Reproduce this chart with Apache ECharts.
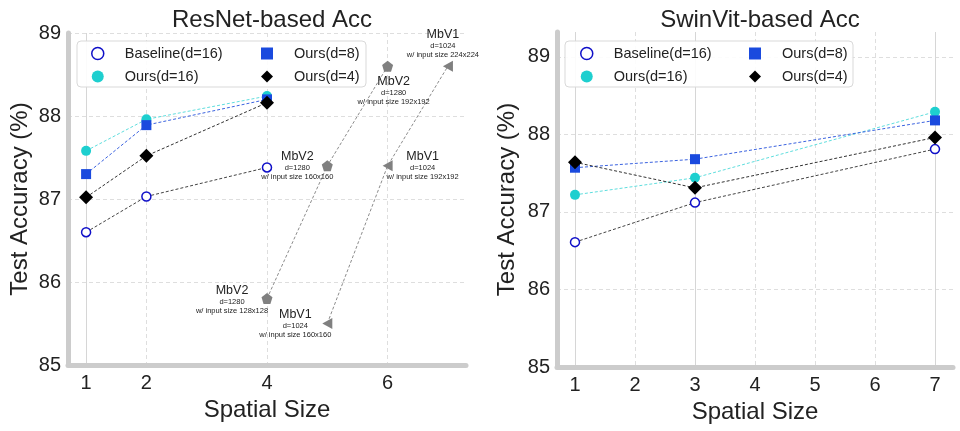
<!DOCTYPE html>
<html>
<head>
<meta charset="utf-8">
<script src="https://cdn.jsdelivr.net/npm/echarts@6/dist/echarts.min.js"></script>
<style>
html,body{margin:0;padding:0;background:#fff;}
#chart{width:960px;height:431px;}
</style>
</head>
<body>
<div id="chart"></div>
<script>
// ---------- data ----------
var resX = [1, 2, 4];
var resBaseline = [86.60, 87.03, 87.38];
var resOurs16 = [87.58, 87.96, 88.24];
var resOurs8 = [87.30, 87.89, 88.20];
var resOurs4 = [87.02, 87.52, 88.16];

var swinX = [1, 3, 7];
var swinBaseline = [86.61, 87.12, 87.81];
var swinOurs8 = [87.57, 87.68, 88.18];
var swinOurs16 = [87.22, 87.44, 88.29];
var swinOurs4 = [87.64, 87.31, 87.96];

var mbv2X = [4, 5, 6];
var mbv2Y = [85.8, 87.4, 88.6];
var mbv2Dim = ['d=1280', 'd=1280', 'd=1280'];
var mbv2Input = ['128x128', '160x160', '192x192'];

var mbv1X = [5, 6, 7];
var mbv1Y = [85.5, 87.4, 88.6];
var mbv1Dim = ['d=1024', 'd=1024', 'd=1024'];
var mbv1Input = ['160x160', '192x192', '224x224'];

var resTicks = [1, 2, 4, 6];
var swinTicks = [1, 2, 3, 4, 5, 6, 7];
var yTicks = [85, 86, 87, 88, 89];

var titles = ['ResNet-based Acc', 'SwinVit-based Acc'];
var names = ['Baseline(d=16)', 'Ours(d=16)', 'Ours(d=8)', 'Ours(d=4)'];

// ---------- styling (not data) ----------
var FONT = 'Liberation Sans, Arial, sans-serif';
var C_BASE = '#1010c8';
var C_O16 = '#1ecfcf';
var C_O8 = '#1a4ade';
var C_O4 = '#000000';
var C_GRAY = '#808080';
var mbv2Offsets = [[-35, 1], [-30, 0], [6, 24]];
var mbv1Offsets = [[-32, 0], [35, 0], [-5, -23]];

var ICON_CIRCLE = 'path://M10,5 A5,5 0 1 1 0,5 A5,5 0 1 1 10,5 Z';
var ICON_RECT = 'path://M0,0 L10,0 L10,10 L0,10 Z';
var ICON_DIAMOND = 'path://M5,0 L10,5 L5,10 L0,5 Z';

function pairs(xs, ys) { return xs.map(function (x, i) { return [x, ys[i]]; }); }

function annotated(xs, ys, title, dims, inputs, offsets) {
  return xs.map(function (x, i) {
    return {
      value: [x, ys[i]],
      label: {
        show: true, position: 'inside', offset: offsets[i],
        formatter: '{t|' + title + '}\n{s|' + dims[i] + '}\n{s|w/ input size ' + inputs[i] + '}'
      }
    };
  });
}

var labelRich = {
  t: { fontFamily: FONT, fontSize: 12.5, lineHeight: 14, color: '#222', align: 'center' },
  s: { fontFamily: FONT, fontSize: 7.5, lineHeight: 9, color: '#222', align: 'center' }
};

function xAxis(gridIndex, ticks) {
  return {
    type: 'value', gridIndex: gridIndex, min: 0.7, max: 7.3,
    name: 'Spatial Size', nameLocation: 'middle', nameGap: 32,
    nameTextStyle: { fontFamily: FONT, fontSize: 24, color: '#222' },
    axisLine: { show: true, onZero: false, lineStyle: { color: '#cccccc', width: 5 } },
    axisTick: { show: false, customValues: ticks },
    axisLabel: { customValues: ticks, fontFamily: FONT, fontSize: 20, color: '#222', margin: 8 },
    splitLine: { show: true, lineStyle: { color: '#dedede', type: [4, 3], width: 1 } }
  };
}
function yAxis(gridIndex, max, nameGap) {
  return {
    type: 'value', gridIndex: gridIndex, min: 85, max: max,
    name: 'Test Accuracy (%)', nameLocation: 'middle', nameGap: nameGap,
    nameTextStyle: { fontFamily: FONT, fontSize: 24, color: '#222' },
    axisLine: { show: true, onZero: false, lineStyle: { color: '#cccccc', width: 5 } },
    axisTick: { show: false, customValues: yTicks },
    axisLabel: { customValues: yTicks, fontFamily: FONT, fontSize: 20, color: '#222', margin: 7 },
    splitLine: { show: true, lineStyle: { color: '#dedede', type: [4, 3], width: 1 } }
  };
}

function lineSeries(name, gi, xs, ys, opts) {
  return Object.assign({
    name: name, type: 'line', xAxisIndex: gi, yAxisIndex: gi,
    data: pairs(xs, ys), showSymbol: true, clip: false,
    lineStyle: { width: 1, type: [3, 2] }
  }, opts);
}

function fourSeries(gi, xs, b, o16, o8, o4, solidXs) {
  return [
    lineSeries(names[0], gi, xs, b, {
      symbol: 'circle', symbolSize: 9,
      itemStyle: { color: '#ffffff', borderColor: C_BASE, borderWidth: 1.5 },
      lineStyle: { width: 1, type: [3, 2], color: '#444' },
      markLine: {
        silent: true, symbol: 'none', label: { show: false },
        lineStyle: { color: '#d6d6d6', type: 'solid', width: 1 },
        data: solidXs.map(function (v) { return { xAxis: v }; }),
        z: 0
      }
    }),
    lineSeries(names[1], gi, xs, o16, {
      symbol: 'circle', symbolSize: 10,
      itemStyle: { color: C_O16 },
      lineStyle: { width: 1, type: [3, 2], color: '#5fdede' }
    }),
    lineSeries(names[2], gi, xs, o8, {
      symbol: 'rect', symbolSize: 10,
      itemStyle: { color: C_O8 },
      lineStyle: { width: 1, type: [3, 2], color: '#3b63e0' }
    }),
    lineSeries(names[3], gi, xs, o4, {
      symbol: 'diamond', symbolSize: 14,
      itemStyle: { color: C_O4 },
      lineStyle: { width: 1, type: [3, 2], color: '#333' }
    })
  ];
}

function legendCol(left, items) {
  return {
    orient: 'vertical', left: left, top: 41, itemWidth: 12, itemHeight: 12, itemGap: 8,
    symbolKeepAspect: true,
    textStyle: { fontFamily: FONT, fontSize: 14.5, color: '#222', padding: [0, 0, 0, 16] },
    selectedMode: false,
    data: items
  };
}
var lgBase = { name: names[0], icon: ICON_CIRCLE, itemStyle: { color: '#ffffff', borderColor: C_BASE, borderWidth: 1.5 } };
var lg16 = { name: names[1], icon: ICON_CIRCLE, itemStyle: { color: C_O16, borderWidth: 0 } };
var lg8 = { name: names[2], icon: ICON_RECT, itemStyle: { color: C_O8, borderWidth: 0 } };
var lg4 = { name: names[3], icon: ICON_DIAMOND, itemStyle: { color: C_O4, borderWidth: 0 } };

var series = []
  .concat(fourSeries(0, resX, resBaseline, resOurs16, resOurs8, resOurs4, [1]))
  .concat(fourSeries(1, swinX, swinBaseline, swinOurs16, swinOurs8, swinOurs4, [1, 3, 7]))
  .concat([
    {
      name: 'MbV2', type: 'line', xAxisIndex: 0, yAxisIndex: 0, clip: false,
      symbol: 'path://M5,0 L10,3.8 L8.1,10 L1.9,10 L0,3.8 Z', symbolSize: 11,
      itemStyle: { color: C_GRAY },
      lineStyle: { width: 1, type: [3, 2], color: '#8c8c8c' },
      label: { show: true, rich: labelRich },
      data: annotated(mbv2X, mbv2Y, 'MbV2', mbv2Dim, mbv2Input, mbv2Offsets)
    },
    {
      name: 'MbV1', type: 'line', xAxisIndex: 0, yAxisIndex: 0, clip: false,
      symbol: 'path://M0,5 L9,0 L9,10 Z', symbolSize: [10, 11],
      itemStyle: { color: C_GRAY },
      lineStyle: { width: 1, type: [3, 2], color: '#8c8c8c' },
      label: { show: true, rich: labelRich },
      data: annotated(mbv1X, mbv1Y, 'MbV1', mbv1Dim, mbv1Input, mbv1Offsets)
    }
  ]);

var option = {
  backgroundColor: '#ffffff',
  animation: false,
  title: [
    { text: titles[0], left: 267, top: 3, textAlign: 'center', textStyle: { fontFamily: FONT, fontSize: 24, fontWeight: 'normal', color: '#222' } },
    { text: titles[1], left: 755, top: 3, textAlign: 'center', textStyle: { fontFamily: FONT, fontSize: 24, fontWeight: 'normal', color: '#222' } }
  ],
  grid: [
    { left: 68, right: 494, top: 33, bottom: 66, outerBoundsMode: 'none' },
    { left: 557, right: 7, top: 32, bottom: 64, outerBoundsMode: 'none' }
  ],
  xAxis: [xAxis(0, resTicks), xAxis(1, swinTicks)],
  yAxis: [yAxis(0, 89, 36), yAxis(1, 89.32, 38)],
  legend: [
    legendCol(86, [lgBase, lg16]),
    legendCol(256, [lg8, lg4]),
    legendCol(575, [lgBase, lg16]),
    legendCol(744, [lg8, lg4])
  ],
  graphic: [
    { type: 'rect', z: 3, shape: { x: 77, y: 41, width: 289, height: 46, r: 4 }, style: { fill: 'rgba(255,255,255,0.9)', stroke: '#d9d9d9', lineWidth: 1 } },
    { type: 'rect', z: 3, shape: { x: 565, y: 41, width: 288, height: 46, r: 4 }, style: { fill: 'rgba(255,255,255,0.9)', stroke: '#d9d9d9', lineWidth: 1 } }
  ],
  series: series
};

var chart = echarts.init(document.getElementById('chart'), null, { renderer: 'canvas' });
chart.setOption(option);
</script>
</body>
</html>
